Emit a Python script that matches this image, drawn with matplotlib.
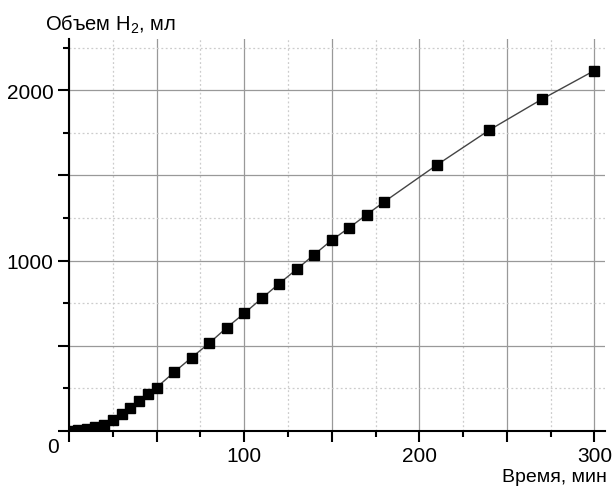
import numpy as np
import matplotlib
matplotlib.use('Agg')
import matplotlib.pyplot as plt

plt.rcParams['font.family'] = ['Liberation Sans', 'DejaVu Sans']
plt.rcParams['mathtext.fontset'] = 'custom'
plt.rcParams['mathtext.rm'] = 'Liberation Sans'
plt.rcParams['mathtext.it'] = 'Liberation Sans'

# время, мин
t = [0, 5, 10, 15, 20, 25, 30, 35, 40, 45, 50, 60, 70, 80, 90, 100,
     110, 120, 130, 140, 150, 160, 170, 180, 210, 240, 270, 300]
# объем H2, мл
v = [0, 5, 12, 22, 37, 66, 99, 134, 174, 216, 255, 345, 431, 515, 606, 690,
     778, 865, 949, 1035, 1120, 1193, 1270, 1345, 1561, 1766, 1947, 2115]

x_major = [0, 50, 100, 150, 200, 250, 300]
x_labels = ['', '', '100', '', '200', '', '300']
y_major = [0, 500, 1000, 1500, 2000]
y_labels = ['', '', '1000', '', '2000']

fig = plt.figure(figsize=(6.15, 4.89), dpi=100)
ax = fig.add_axes([69 / 615, 1 - 432 / 489, (605 - 69) / 615, (432 - 40) / 489])

ax.plot(t, v, color='#444444', lw=1.0, marker='s', ms=6.5,
        mfc='black', mec='black', zorder=3)

ax.set_xlim(0, 306)
ax.set_ylim(0, 2300)
ax.set_xticks(x_major)
ax.set_xticklabels(x_labels)
ax.set_xticks(np.arange(25, 300, 50), minor=True)
ax.set_yticks(y_major)
ax.set_yticklabels(y_labels)
ax.set_yticks(np.arange(250, 2300, 500), minor=True)

ax.grid(which='major', color='#999999', lw=0.9, ls='-')
ax.grid(which='minor', color='#cccccc', lw=0.9, ls=(0, (1.5, 2)))
ax.set_axisbelow(True)

for s in ['top', 'right']:
    ax.spines[s].set_visible(False)
for s in ['left', 'bottom']:
    ax.spines[s].set_linewidth(1.5)
ax.tick_params(which='major', length=8, width=1.5, labelsize=15, pad=3)
ax.tick_params(which='minor', length=4.5, width=1.5)

ax.text(-0.03, -0.04, '0', transform=ax.transAxes, ha='center', va='center', fontsize=15)
fig.text(45 / 615, 1 - 25 / 489, 'Объем H$_2$, мл', ha='left', va='center', fontsize=14.5)
fig.text(607 / 615, 1 - 478 / 489, 'Время, мин', ha='right', va='center', fontsize=14)

plt.savefig('out.png', dpi=100)
